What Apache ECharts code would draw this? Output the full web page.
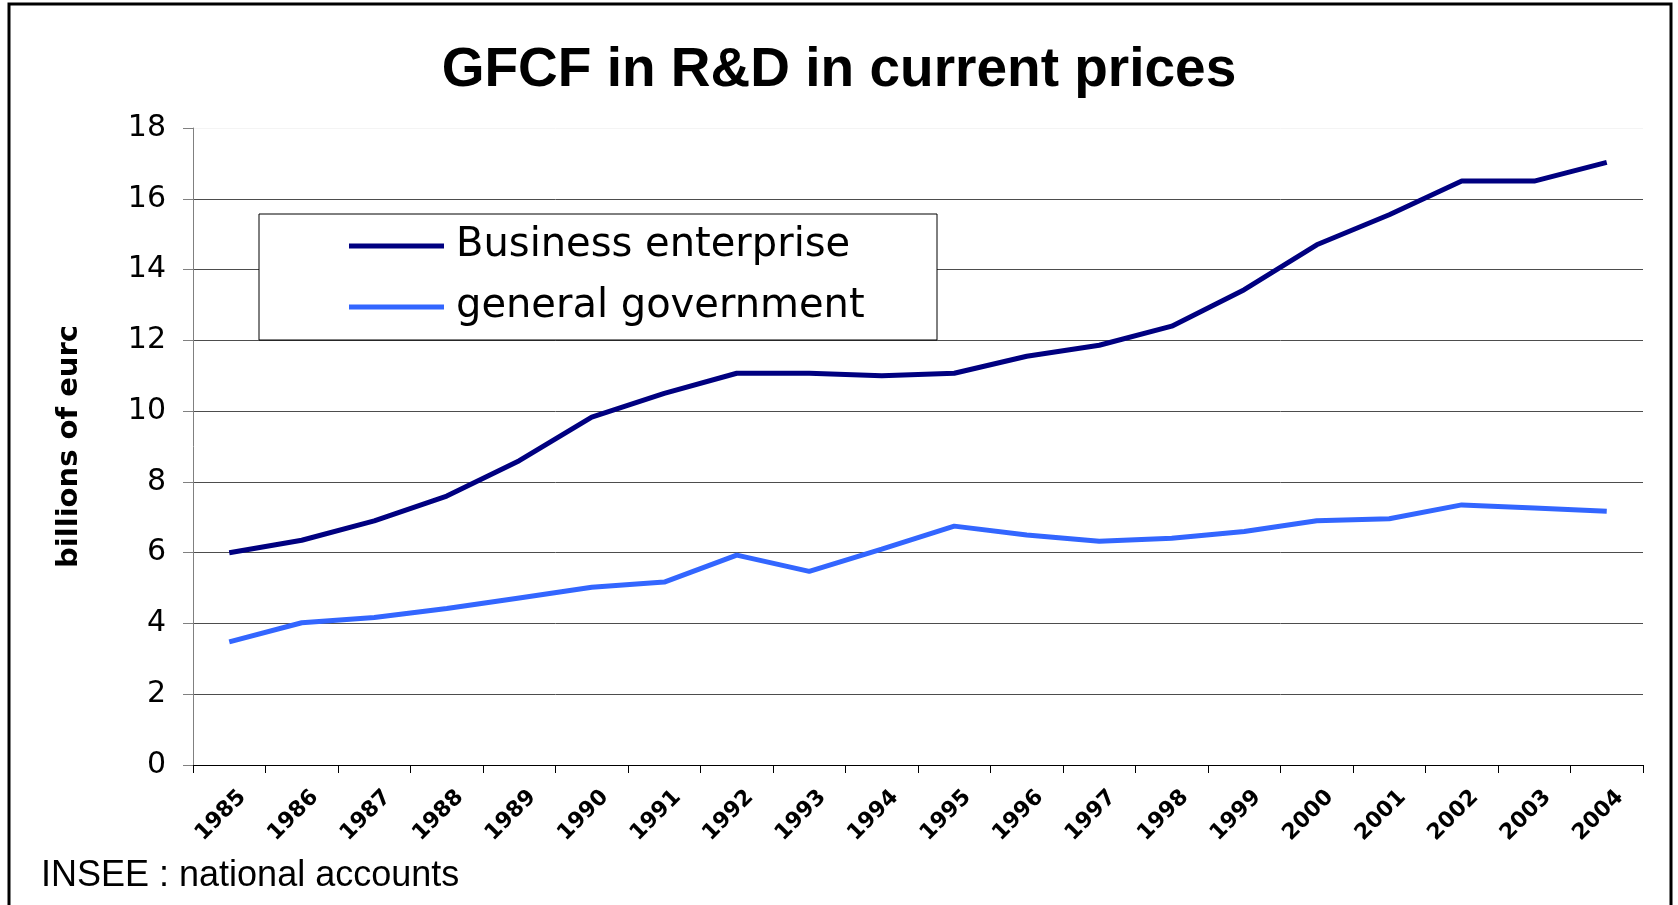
<!DOCTYPE html>
<html>
<head>
<meta charset="utf-8">
<script src="https://cdn.jsdelivr.net/npm/echarts@6/dist/echarts.min.js"></script>
<style>
html,body{margin:0;padding:0;background:#fff;}
#chart{width:1678px;height:905px;}
</style>
</head>
<body>
<div id="chart"></div>
<script>
const years = ['1985','1986','1987','1988','1989','1990','1991','1992','1993','1994','1995','1996','1997','1998','1999','2000','2001','2002','2003','2004'];
const businessEnterprise = [6.0, 6.35, 6.9, 7.6, 8.6, 9.83, 10.5, 11.07, 11.07, 11.0, 11.07, 11.55, 11.86, 12.4, 13.43, 14.7, 15.55, 16.5, 16.5, 17.03];
const generalGovernment = [3.48, 4.02, 4.17, 4.42, 4.72, 5.02, 5.17, 5.93, 5.47, 6.1, 6.75, 6.5, 6.32, 6.41, 6.6, 6.9, 6.96, 7.35, 7.26, 7.17];
const yTicks = [0, 2, 4, 6, 8, 10, 12, 14, 16, 18];
const titleText = 'GFCF in R&D in current prices';
const yAxisName = 'billions of eurc';
const sourceText = 'INSEE : national accounts';

const chart = echarts.init(document.getElementById('chart'), null, {renderer: 'canvas'});
const font = 'DejaVu Sans';
const splitColors = yTicks.map((v, i) => i === yTicks.length - 1 ? '#f4f4f4' : '#4d4d4d');

chart.setOption({
  backgroundColor: '#ffffff',
  animation: false,
  title: {
    text: titleText,
    left: 'center',
    top: 38,
    textStyle: {fontFamily: 'Liberation Sans', fontWeight: 'bold', fontSize: 55, color: '#000'}
  },
  graphic: [
    {type: 'rect', z: 100, silent: true, shape: {x: 9, y: 4, width: 1662, height: 1000},
     style: {fill: 'none', stroke: '#000', lineWidth: 3}},
    {type: 'rect', z: 5, silent: true, shape: {x: 259, y: 214, width: 678, height: 126},
     style: {fill: '#fff', stroke: '#000', lineWidth: 1}},
    {type: 'text', z: 5, left: 41, top: 858,
     style: {text: sourceText, font: '36px "Liberation Sans"', fill: '#000'}}
  ],
  legend: {
    z: 10,
    orient: 'vertical',
    left: 344,
    top: 220,
    icon: 'rect',
    itemWidth: 95,
    itemHeight: 5,
    itemGap: 19,
    textStyle: {fontFamily: font, fontSize: 40, color: '#000', lineHeight: 42, padding: [0, 0, 0, 7]},
    data: ['Business enterprise', 'general government']
  },
  grid: {left: 193, right: 35, top: 128, bottom: 140, containLabel: false},
  xAxis: {
    type: 'category',
    data: years,
    boundaryGap: true,
    axisLine: {show: true, lineStyle: {color: '#000', width: 1}},
    axisTick: {show: true, length: 8, lineStyle: {color: '#000'}},
    axisLabel: {rotate: 45, margin: 42, align: 'center', verticalAlign: 'middle', padding: [0, 24, 0, 0],
      fontFamily: font, fontWeight: 'bold', fontSize: 22, color: '#000', interval: 0},
    splitLine: {show: false}
  },
  yAxis: {
    type: 'value',
    min: 0,
    max: 18,
    interval: 2,
    name: yAxisName,
    nameLocation: 'middle',
    nameGap: 109,
    nameRotate: 90,
    nameTextStyle: {fontFamily: font, fontWeight: 'bold', fontSize: 29, color: '#000'},
    axisLine: {show: true, lineStyle: {color: '#808080', width: 1}},
    axisTick: {show: true, length: 10, lineStyle: {color: '#808080'}},
    axisLabel: {fontFamily: font, fontSize: 30, color: '#000', margin: 27},
    splitLine: {show: true, lineStyle: {color: splitColors, width: 1}}
  },
  series: [
    {name: 'Business enterprise', type: 'line', data: businessEnterprise, symbol: 'none',
     lineStyle: {color: '#000080', width: 5}, itemStyle: {color: '#000080'}, z: 3},
    {name: 'general government', type: 'line', data: generalGovernment, symbol: 'none',
     lineStyle: {color: '#3366ff', width: 5}, itemStyle: {color: '#3366ff'}, z: 3}
  ]
});
</script>
</body>
</html>
